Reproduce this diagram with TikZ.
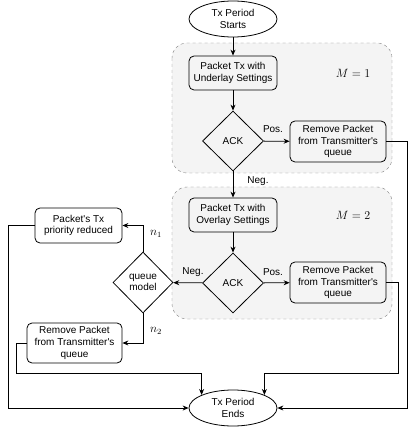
\documentclass[tikz,border=0pt]{standalone}
\usepackage{amsmath}
\usepackage[no-math]{fontspec}
\setmainfont{Liberation Sans}
\usetikzlibrary{shapes.geometric,arrows.meta}

\begin{document}
\begin{tikzpicture}[
        x=1pt, y=-1pt,
        font=\fontsize{10}{11.7}\selectfont,
        terminal/.style={draw,ellipse,thick,minimum width=88pt,minimum height=36pt,inner sep=0pt,align=center},
        procbox/.style={draw,rounded corners=5pt,thick,minimum width=88pt,minimum height=34pt,inner sep=1pt,align=center},
        decision/.style={draw,diamond,thick,minimum width=61pt,minimum height=60pt,inner sep=0pt,align=center},
        groupbox/.style={draw=gray,dashed,fill=gray!9,rounded corners=15pt},
        flow/.style={->,>={Stealth[length=6pt,width=5pt]},thick},
        lbl/.style={font=\fontsize{10}{12}\selectfont},
        mlbl/.style={font=\fontsize{12}{14}\selectfont}
      ]
      \useasboundingbox (0,0) rectangle (415,427);
      % shaded groups
      \draw[groupbox] (172,43) rectangle (392,173);
      \draw[groupbox] (172,187) rectangle (392,319);
      \node[font=\fontsize{13}{15}\selectfont] at (353,73) {$M=1$};
      \node[font=\fontsize{13}{15}\selectfont] at (353,215) {$M=2$};
      % Main column
      \node[terminal] (start) at (233,19) {Tx Period\\Starts};
      \node[procbox] (under) at (233,73) {Packet Tx with\\Underlay Settings};
      \node[decision] (ackA) at (233,141) {ACK};
      \node[procbox,minimum width=96pt,minimum height=41pt] (remA) at (338,141.5) {Remove Packet\\from Transmitter\textquotesingle s\\queue};
      \node[procbox] (over) at (233,215) {Packet Tx with\\Overlay Settings};
      \node[decision] (ackB) at (233,283) {ACK};
      \node[procbox,minimum width=96pt,minimum height=41pt] (remB) at (338,282.5) {Remove Packet\\from Transmitter\textquotesingle s\\queue};
      \node[terminal] (end) at (233,408) {Tx Period\\Ends};
      % Queue side
      \node[decision,minimum width=60pt,minimum height=61pt] (queue) at (143,282.5) {queue\\model};
      \node[procbox,minimum width=87pt,minimum height=35pt] (prio) at (78.5,225.5) {Packet\textquotesingle s Tx\\priority reduced};
      \node[procbox,minimum width=95pt,minimum height=40pt] (remC) at (74.5,343) {Remove Packet\\from Transmitter\textquotesingle s\\queue};
      % Connectors
      \draw[flow] (start) -- (under);
      \draw[flow] (under) -- (ackA);
      \draw[flow] (ackA) -- (remA);
      \node[lbl] at (273,129) {Pos.};
      \draw[flow] (ackA) -- (over);
      \node[lbl] at (258,181) {Neg.};
      \draw[flow] (over) -- (ackB);
      \draw[flow] (ackB) -- (remB);
      \node[lbl] at (273,272) {Pos.};
      \draw[flow] (ackB) -- (queue);
      \node[lbl] at (193,272) {Neg.};
      \draw[flow] (queue.north) |- (prio.east);
      \node[mlbl] at (156,234) {$n_1$};
      \draw[flow] (queue.south) |- (remC.east);
      \node[mlbl] at (156,331) {$n_2$};
      \draw[flow] (remA.east) -- (407,141.5) |- (end.east);
      \draw[flow] (remB.east) -- (398,282.5) -- (398,373) -| (end.north east);
      \draw[flow] (remC.west) -- (16,343) -- (16,373) -| (end.north west);
      \draw[flow] (prio.west) -- (8,225.5) |- (end.west);
    \end{tikzpicture}
\end{document}
